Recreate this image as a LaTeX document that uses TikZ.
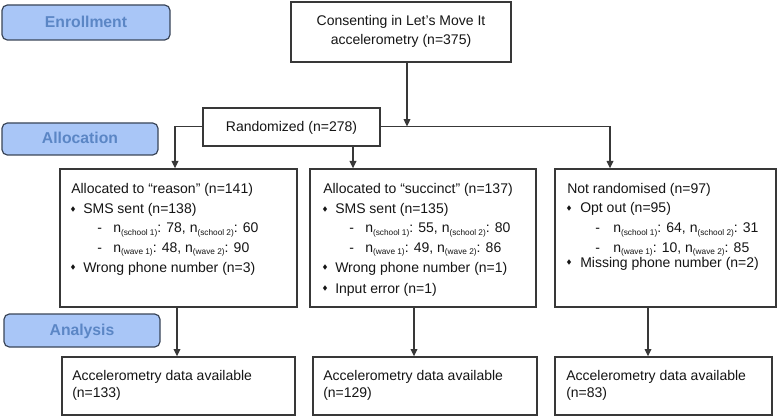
\documentclass[tikz,border=0pt]{standalone}
\usepackage{fontspec}
\setmainfont{Liberation Sans}
\usetikzlibrary{arrows.meta,shapes.geometric}
\definecolor{lblfill}{HTML}{A9C6F7}
\definecolor{lbltext}{HTML}{5B86C5}
\definecolor{lblline}{HTML}{3A4558}
\definecolor{ink}{HTML}{151515}
\definecolor{edge}{HTML}{383838}
\newcommand\sbs[1]{\raisebox{-0.35ex}{\fontsize{6.2}{7}\selectfont #1}}
\begin{document}
\begin{tikzpicture}[x=0.75pt,y=-0.75pt,
  sz/.style 2 args={minimum width=#1*0.75pt,minimum height=#2*0.75pt},
  lbl/.style={draw=lblline, line width=0.9pt, fill=lblfill, rounded corners=4pt, text=lbltext,
    font=\fontsize{11.8}{14}\selectfont\bfseries, inner sep=0pt, text height=0.72em, text depth=0pt},
  box/.style={draw=edge, line width=1pt, fill=white, inner sep=0pt},
  txt/.style={anchor=base west, inner sep=0pt, text=ink, font=\fontsize{10.5}{12}\selectfont},
  ctxt/.style={anchor=base, inner sep=0pt, text=ink, font=\fontsize{10.5}{12}\selectfont},
  bul/.style={diamond, fill=ink, inner sep=0pt, minimum width=3.2pt, minimum height=4.2pt},
  arr/.style={draw=edge, line width=0.9pt, -{Triangle[length=5.5pt,width=5pt]}}]
\useasboundingbox (0,0) rectangle (778,417);

% stage labels
\node[lbl, sz={168}{35}] (enr) at (86,22.5) {Enrollment};
\node[lbl, sz={156}{32}] (alc) at (80,139) {Allocation};
\node[lbl, sz={156}{33}] (ana) at (82,330.5) {Analysis};

% top boxes
\node[box, sz={220}{60}] (cons) at (401,32) {};
\node[ctxt] (cons1) at (401,26) {Consenting in Let’s Move It};
\node[ctxt] (cons2) at (401,45) {accelerometry (n=375)};
\node[box, sz={177}{38}] (rand) at (291.5,127) {};
\node[ctxt] (randt) at (291.5,132) {Randomized (n=278)};

% middle boxes
\node[box, sz={237}{138}] (b1) at (178.5,238) {};
\node[box, sz={226}{138}] (b2) at (423,238) {};
\node[box, sz={221}{138}] (b3) at (665.5,238) {};

% box 1
\node[txt] (a1) at (71,194) {Allocated to “reason” (n=141)};
\node[bul] (a1b1) at (73,209) {};
\node[txt] (a2) at (83,214) {SMS sent (n=138)};
\node[txt] (a3d) at (97,233) {-};
\node[txt] (a3) at (113,233) {n\sbs{(school 1)}: 78, n\sbs{(school 2)}: 60};
\node[txt] (a4d) at (97,252) {-};
\node[txt] (a4) at (113,252) {n\sbs{(wave 1)}: 48, n\sbs{(wave 2)}: 90};
\node[bul] (a1b2) at (73,267) {};
\node[txt] (a5) at (83,272) {Wrong phone number (n=3)};

% box 2
\node[txt] (s1) at (323,194) {Allocated to “succinct” (n=137)};
\node[bul] (s1b1) at (325,209) {};
\node[txt] (s2) at (335,214) {SMS sent (n=135)};
\node[txt] (s3d) at (349,233) {-};
\node[txt] (s3) at (365,233) {n\sbs{(school 1)}: 55, n\sbs{(school 2)}: 80};
\node[txt] (s4d) at (349,252) {-};
\node[txt] (s4) at (365,252) {n\sbs{(wave 1)}: 49, n\sbs{(wave 2)}: 86};
\node[bul] (s1b2) at (325,267) {};
\node[txt] (s5) at (335,272) {Wrong phone number (n=1)};
\node[bul] (s1b3) at (325,288) {};
\node[txt] (s6) at (335,293) {Input error (n=1)};

% box 3
\node[txt] (r1) at (567,194) {Not randomised (n=97)};
\node[bul] (r1b1) at (569,208) {};
\node[txt] (r2) at (580,213) {Opt out (n=95)};
\node[txt] (r3d) at (595,233) {-};
\node[txt] (r3) at (613,233) {n\sbs{(school 1)}: 64, n\sbs{(school 2)}: 31};
\node[txt] (r4d) at (595,252) {-};
\node[txt] (r4) at (613,252) {n\sbs{(wave 1)}: 10, n\sbs{(wave 2)}: 85};
\node[bul] (r1b2) at (569,262) {};
\node[txt] (r5) at (580,267) {Missing phone number (n=2)};

% bottom boxes
\node[box, sz={233}{58}] (d1) at (178.5,386) {};
\node[txt] (d1a) at (72,380) {Accelerometry data available};
\node[txt] (d1b) at (72,397) {(n=133)};
\node[box, sz={224}{58}] (d2) at (425,386) {};
\node[txt] (d2a) at (323,380) {Accelerometry data available};
\node[txt] (d2b) at (323,397) {(n=129)};
\node[box, sz={217}{58}] (d3) at (663.5,386) {};
\node[txt] (d3a) at (566,380) {Accelerometry data available};
\node[txt] (d3b) at (566,397) {(n=83)};

% connectors
\coordinate (jt) at (407,126.5);
\coordinate (jr) at (610,126.5);
\coordinate (jl) at (175,126.5);
\coordinate (jm) at (353,0);
\coordinate (k1) at (177,0);
\coordinate (k2) at (414,0);
\coordinate (k3) at (648,0);
\draw[arr] (cons.south -| jt) -- (jt);
\draw[arr] (rand.east |- jr) -- (jr) -- (jr |- b3.north);
\draw[arr] (rand.west |- jl) -- (jl) -- (jl |- b1.north);
\draw[arr] (rand.south -| jm) -- (jm |- b2.north);
\draw[arr] (b1.south -| k1) -- (d1.north -| k1);
\draw[arr] (b2.south -| k2) -- (d2.north -| k2);
\draw[arr] (b3.south -| k3) -- (d3.north -| k3);
\end{tikzpicture}
\end{document}
